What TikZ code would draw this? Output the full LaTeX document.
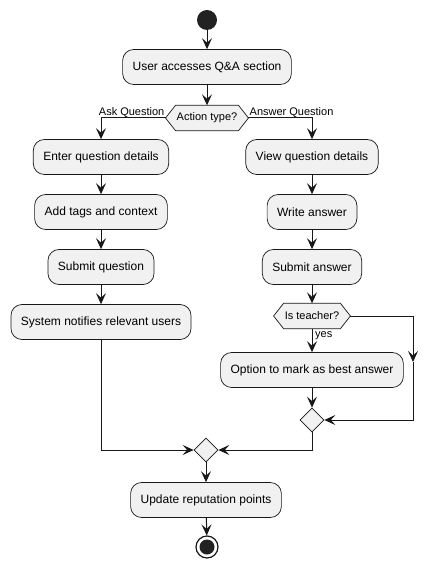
\documentclass[tikz,border=0pt]{standalone}
\usepackage{fontspec}
\setmainfont{Liberation Sans}
\usetikzlibrary{arrows.meta,shapes.geometric,calc,backgrounds}
\definecolor{boxfill}{HTML}{F1F1F1}
\definecolor{lineclr}{HTML}{181818}
\definecolor{dotclr}{HTML}{222222}
\begin{document}
\begin{tikzpicture}[x=1pt,y=-1pt,
  act/.style={rectangle, rounded corners=11pt, draw=lineclr, fill=boxfill, line width=0.7pt,
    minimum height=35pt, inner xsep=10pt, font=\fontsize{12}{14}\selectfont, text=black},
  hexlbl/.style={rectangle, minimum height=25pt, inner xsep=11pt, inner ysep=0pt,
    font=\fontsize{11}{13}\selectfont, text=black},
  hexshape/.style={draw=lineclr, fill=boxfill, line width=0.7pt},
  merge/.style={diamond, draw=lineclr, fill=boxfill, line width=0.7pt,
    minimum width=24pt, minimum height=24pt, inner sep=0pt},
  flow/.style={draw=lineclr, line width=1pt, -{Stealth[length=11pt,width=10pt,inset=4.5pt]}},
  lbl/.style={font=\fontsize{11}{13}\selectfont, text=black, inner sep=1pt}
]
\useasboundingbox (0,0) rectangle (438,569);

% start
\node[circle, fill=dotclr, minimum size=20pt, inner sep=0pt] (start) at (207,20) {};

\node[act] (access) at (207,67) {User accesses Q\&A section};

\node[hexlbl] (d1) at (207,118) {Action type?};

% left column
\node[act] (enter) at (101,157) {Enter question details};
\node[act] (tags) at (101,212) {Add tags and context};
\node[act] (subq) at (101,267) {Submit question};
\node[act] (notify) at (101,322) {System notifies relevant users};

% right column
\node[act] (view) at (312,157) {View question details};
\node[act] (write) at (312,212) {Write answer};
\node[act] (suba) at (312,267) {Submit answer};

\node[hexlbl] (t) at (312,316) {Is teacher?};

\begin{pgfonlayer}{background}
\fill[white] (0,0) rectangle (438,569);
\path[hexshape] (d1.west) -- ([xshift=10pt]d1.north west) -- ([xshift=-10pt]d1.north east)
  -- (d1.east) -- ([xshift=-10pt]d1.south east) -- ([xshift=10pt]d1.south west) -- cycle;
\path[hexshape] (t.west) -- ([xshift=10pt]t.north west) -- ([xshift=-10pt]t.north east)
  -- (t.east) -- ([xshift=-10pt]t.south east) -- ([xshift=10pt]t.south west) -- cycle;
\end{pgfonlayer}

\node[act] (best) at (312,370) {Option to mark as best answer};
\node[merge] (m1) at (312,420) {};
\node[merge] (m2) at (206,450) {};
\node[act] (upd) at (206,500) {Update reputation points};

% end
\node[circle, draw=lineclr, fill=white, line width=1.2pt, minimum size=22pt, inner sep=0pt] (finish) at (207,547) {};
\node[circle, fill=dotclr, minimum size=15pt, inner sep=0pt] (finishdot) at (207,547) {};

\coordinate (rturn) at (413,362);

% connectors
\draw[flow] (start) -- (access);
\draw[flow] (access) -- (d1);
\draw[flow] (d1.west) -| (enter.north);
\draw[flow] (d1.east) -| (view.north);
\node[lbl, anchor=south east] at ([yshift=-1pt]d1.west) {Ask Question};
\node[lbl, anchor=south west] at ([yshift=-1pt]d1.east) {Answer Question};

\draw[flow] (enter) -- (tags);
\draw[flow] (tags) -- (subq);
\draw[flow] (subq) -- (notify);

\draw[flow] (view) -- (write);
\draw[flow] (write) -- (suba);
\draw[flow] (suba) -- (t);
\draw[flow] (t.south) -- (best.north);
\node[lbl, anchor=north west] at ([xshift=2pt,yshift=-2pt]t.south) {yes};
\draw[flow] (t.east) -| (rturn);
\draw[flow] (rturn) |- (m1.east);
\draw[flow] (best) -- (m1);

\draw[flow] (notify.south) |- (m2.west);
\draw[flow] (m1.south) |- (m2.east);
\draw[flow] (m2) -- (upd);
\draw[flow] (upd) -- (finish);
\end{tikzpicture}
\end{document}
